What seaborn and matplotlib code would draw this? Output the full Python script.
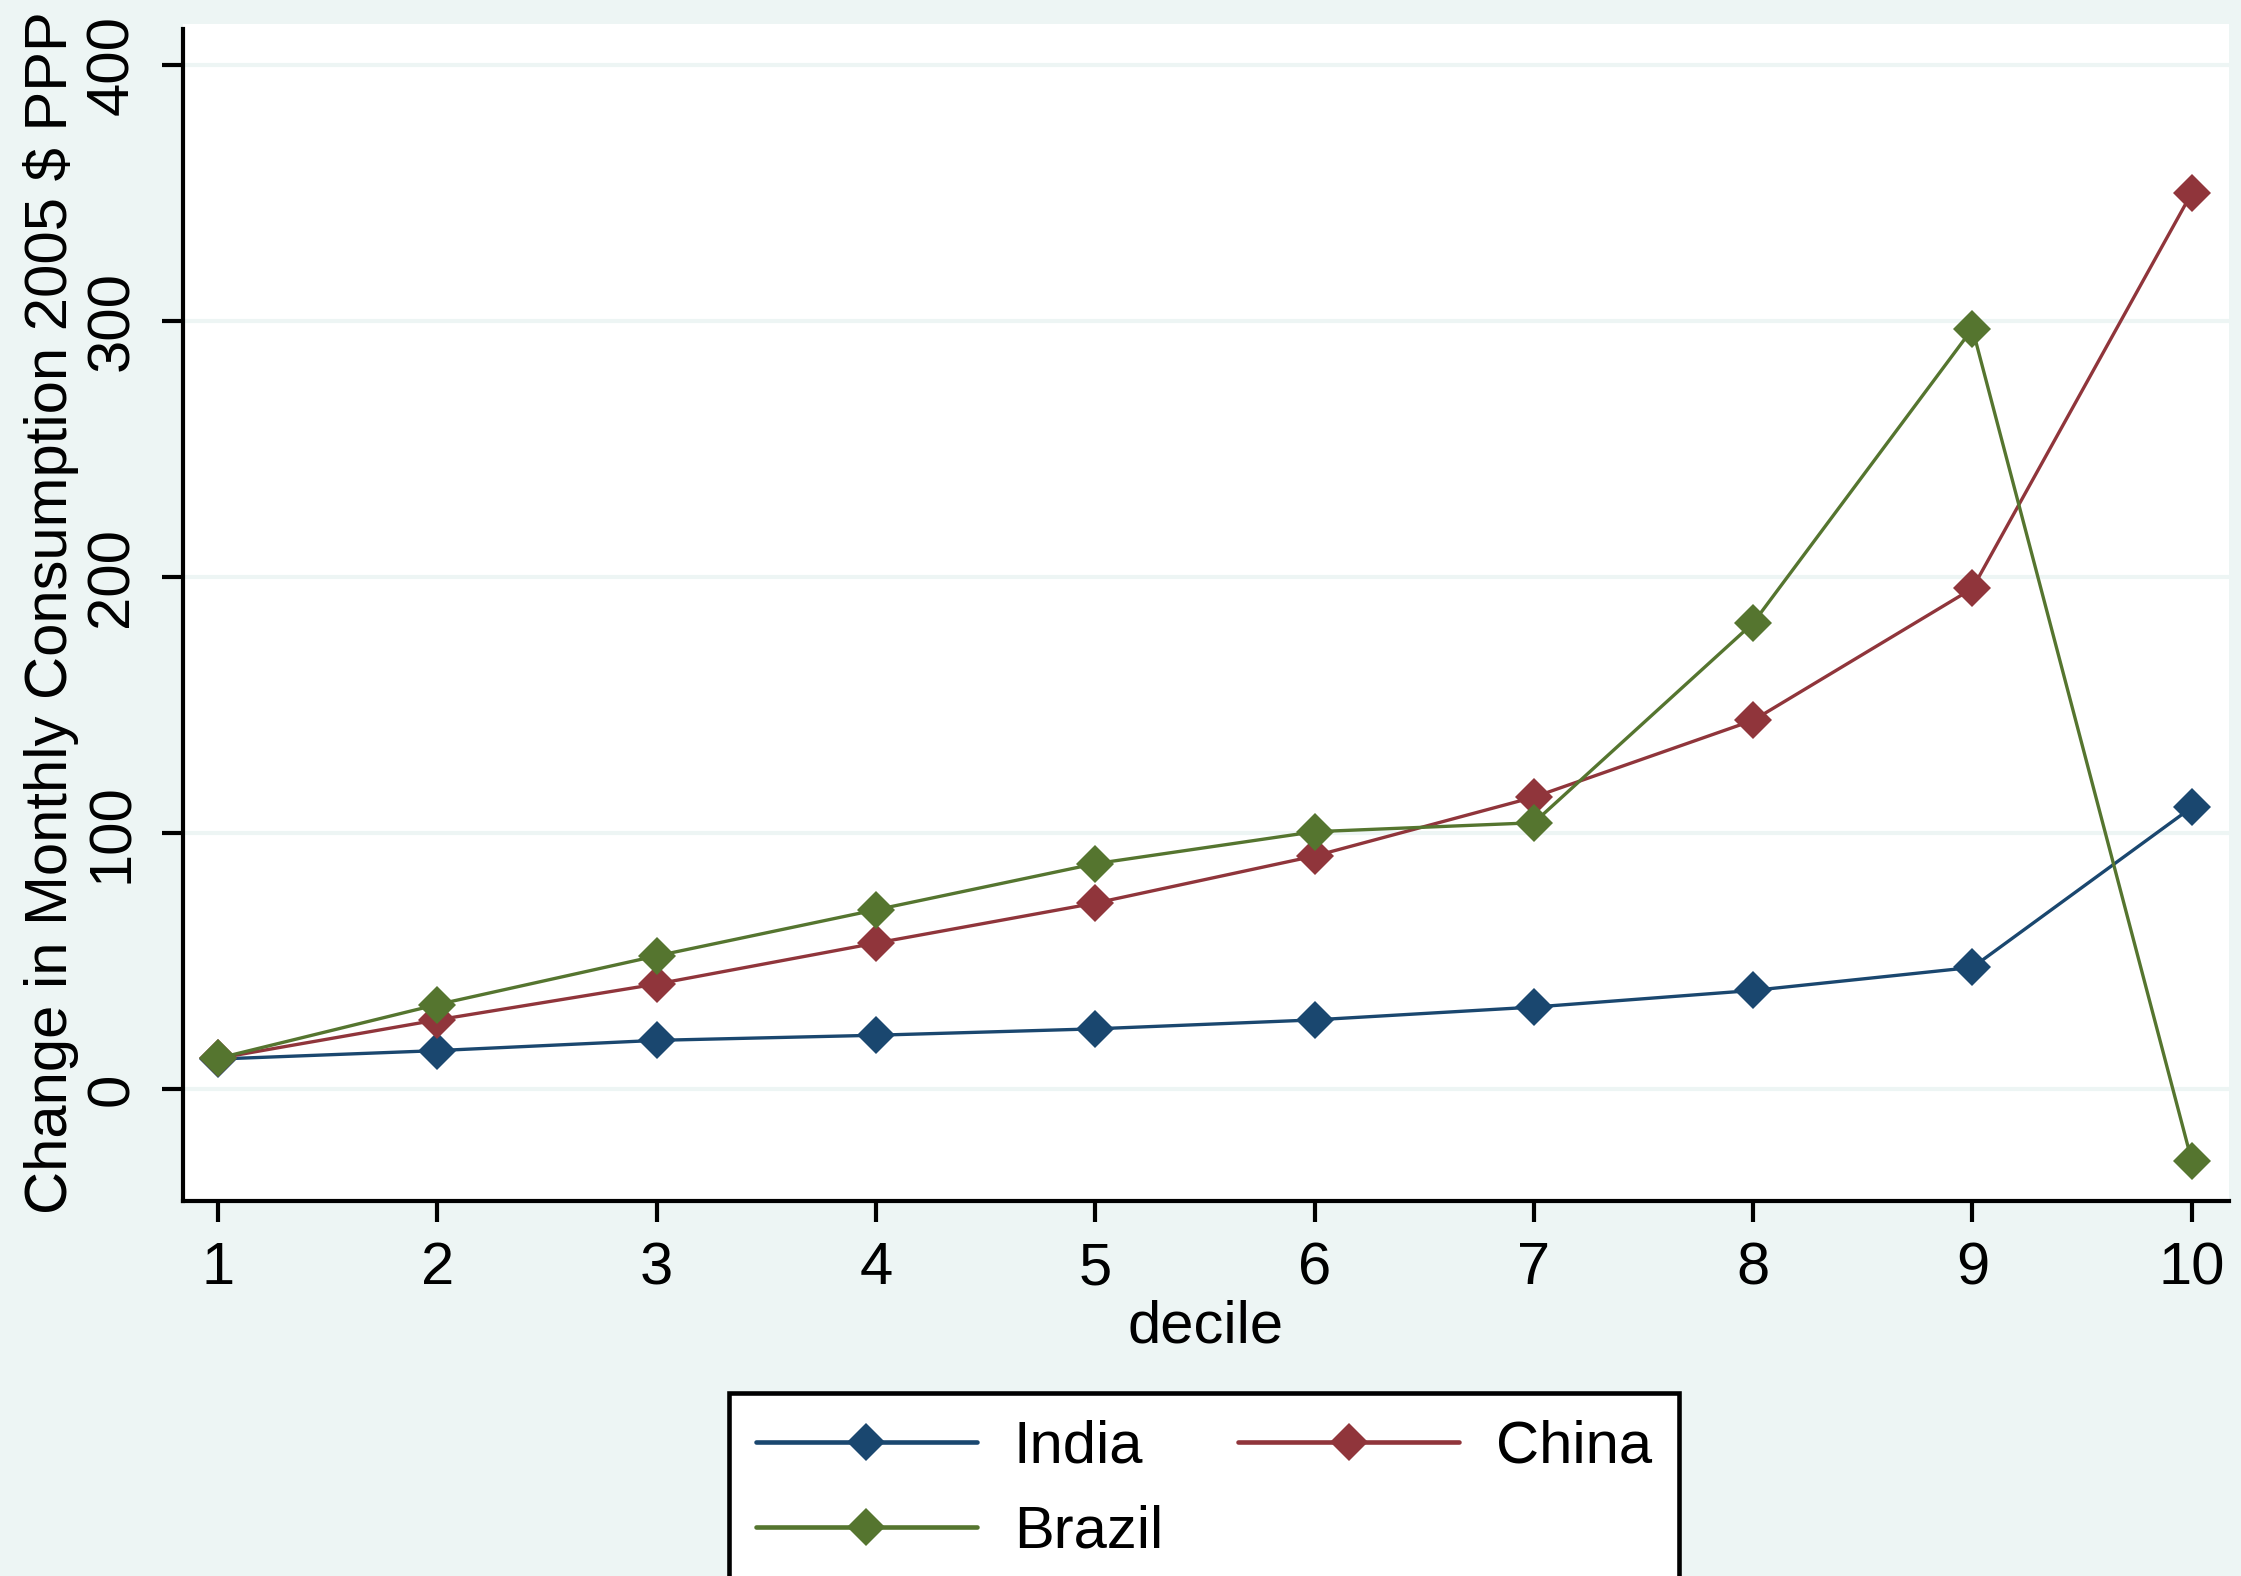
import pandas as pd
import matplotlib
matplotlib.use("Agg")
import matplotlib.pyplot as plt
from matplotlib.lines import Line2D
import seaborn as sns

# values
deciles = [1, 2, 3, 4, 5, 6, 7, 8, 9, 10]
india = [11.7, 15, 19, 21, 23.5, 27, 32, 38.5, 47.5, 110]
china = [12, 27, 41, 57, 72.6, 91, 114, 144, 195.5, 350]
brazil = [12, 33, 52, 70, 88, 100.5, 104, 182, 297, -28]
countries = ["India", "China", "Brazil"]
colors = ["#1a476f", "#90353b", "#55752f"]
yticks = [0, 100, 200, 300, 400]

BG = "#edf5f4"


def build_frame():
    frames = []
    for name, vals in zip(countries, [india, china, brazil]):
        frames.append(pd.DataFrame({"decile": deciles, "value": vals, "country": name}))
    return pd.concat(frames, ignore_index=True)


def main():
    sns.set_style("ticks")
    plt.rcParams["font.family"] = ["Liberation Sans Narrow", "Liberation Sans", "DejaVu Sans"]
    plt.rcParams["font.size"] = 43
    plt.rcParams["text.color"] = "black"
    plt.rcParams["axes.labelcolor"] = "black"
    plt.rcParams["xtick.color"] = "black"
    plt.rcParams["ytick.color"] = "black"

    df = build_frame()
    fig = plt.figure(figsize=(22.41, 15.76), dpi=100, facecolor=BG)
    ax = fig.add_axes([183 / 2241, 1 - 1201 / 1576, (2229 - 183) / 2241, (1201 - 24) / 1576])
    ax.set_facecolor("white")

    palette = dict(zip(countries, colors))
    sns.lineplot(data=df, x="decile", y="value", hue="country", palette=palette,
                 marker="D", markersize=19, markeredgewidth=0, linewidth=2.4,
                 legend=False, ax=ax, sort=False)

    ax.set_xlim(0.84, 10.17)
    ax.set_ylim(-43.75, 416)
    ax.set_xticks(deciles)
    ax.set_yticks(yticks)
    ax.set_yticklabels([str(v) for v in yticks], rotation=90, va="center")
    ax.grid(axis="y", color=BG, linewidth=3)
    ax.set_axisbelow(True)

    for side in ["top", "right"]:
        ax.spines[side].set_visible(False)
    for side in ["left", "bottom"]:
        ax.spines[side].set_linewidth(3)
        ax.spines[side].set_color("black")
    ax.spines["left"].set_bounds(-43.75, 414)

    ax.tick_params(axis="both", length=15, width=3, color="black", labelsize=43,
                   labelcolor="black")
    ax.tick_params(axis="x", pad=14)
    ax.tick_params(axis="y", pad=16)

    ax.set_xlabel("decile", fontsize=43, labelpad=2, color="black")
    ax.set_ylabel("Change in Monthly Consumption 2005 $ PPP", fontsize=43, labelpad=4,
                  color="black")

    # legend filled row-wise like the original: India, China / Brazil
    order = [0, 2, 1]
    handles = [Line2D([0], [0], color=colors[i], linewidth=3.3, marker="D", markersize=19,
                      markeredgewidth=0) for i in order]
    labels = [countries[i] for i in order]
    leg = fig.legend(handles, labels, loc="upper left",
                     bbox_to_anchor=(729 / 2241, 1 - 1393 / 1576), ncol=2,
                     frameon=True, fancybox=False, framealpha=1, edgecolor="black",
                     fontsize=43, borderpad=0.45, handlelength=3.7, handletextpad=0.62,
                     columnspacing=1.26, labelspacing=0.5, numpoints=1, borderaxespad=0)
    leg.get_frame().set_linewidth(3.3)
    for t in leg.get_texts():
        t.set_color("black")

    fig.savefig("out.png", dpi=100, facecolor=BG)
    plt.close(fig)


if __name__ == "__main__":
    main()
